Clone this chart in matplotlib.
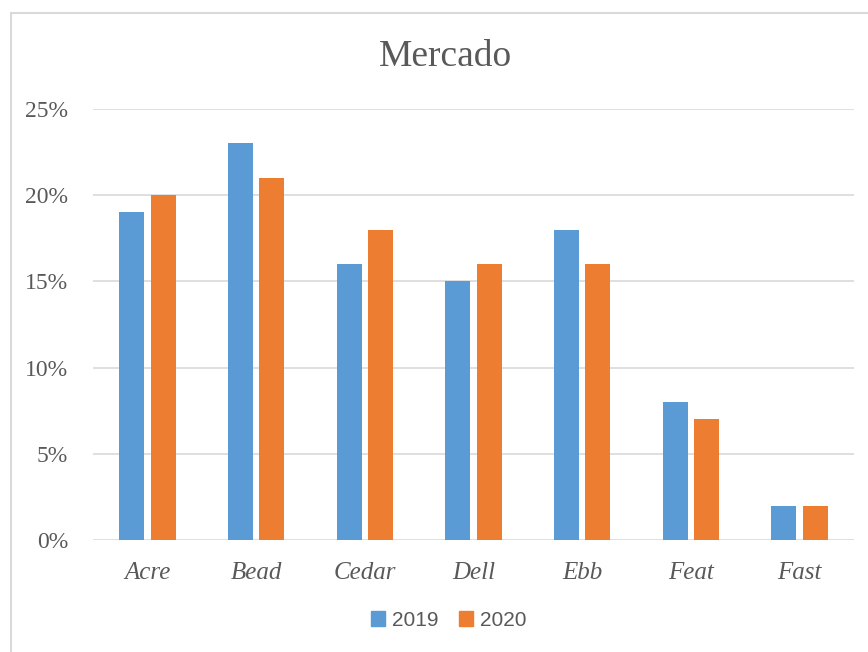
import matplotlib
matplotlib.use("Agg")
import matplotlib.pyplot as plt
import numpy as np
from matplotlib.patches import Rectangle, Patch

categories = ["Acre", "Bead", "Cedar", "Dell", "Ebb", "Feat", "Fast"]
series_names = ["2019", "2020"]
values_2019 = [19, 23, 16, 15, 18, 8, 2]
values_2020 = [20, 21, 18, 16, 16, 7, 2]
y_ticks = [0, 5, 10, 15, 20, 25]
y_tick_labels = ["0%", "5%", "10%", "15%", "20%", "25%"]
title = "Mercado"

blue = "#5B9BD5"
orange = "#ED7D31"
grid_c = "#D9D9D9"
text_c = "#595959"

W, H = 868, 652
fig = plt.figure(figsize=(W / 100, H / 100), dpi=100)
fig.patch.set_facecolor("white")

# chart border (light grey, extending beyond the right/bottom edges)
fig.patches.append(Rectangle((11 / W, 0 - 0.1), 1.2, 1 - 13 / H + 0.1,
                             transform=fig.transFigure, fill=False,
                             edgecolor="#D9D9D9", linewidth=1.5))

ax = fig.add_axes([93 / W, (H - 540) / H, 761 / W, 431 / H])
x = np.arange(len(categories))
bw = 0.23
off = 0.145
ax.bar(x - off, values_2019, bw, color=blue, label=series_names[0], zorder=3)
ax.bar(x + off, values_2020, bw, color=orange, label=series_names[1], zorder=3)

ax.set_xlim(-0.5, len(categories) - 0.5)
ax.set_ylim(0, 25)
ax.set_yticks(y_ticks)
ax.set_yticklabels(y_tick_labels, family="Liberation Serif", fontsize=17, color=text_c)
ax.set_xticks(x)
ax.set_xticklabels(categories, family="Liberation Serif", style="italic", fontsize=18, color=text_c)
ax.tick_params(axis="y", length=0, pad=18)
ax.tick_params(axis="x", length=0, pad=16)
for s in ax.spines.values():
    s.set_visible(False)
ax.grid(axis="y", color=grid_c, linewidth=1.2, zorder=0)
ax.set_axisbelow(True)

fig.text(445 / W, 1 - 57 / H, title, family="Liberation Serif", fontsize=27,
         color=text_c, ha="center", va="center")

handles = [Patch(color=blue), Patch(color=orange)]
leg = fig.legend(handles, series_names, loc="center", bbox_to_anchor=(449 / W, 1 - 620 / H),
                 ncol=2, frameon=False, prop={"family": "Liberation Sans", "size": 15},
                 handlelength=0.65, handleheight=0.7, handletextpad=0.35, columnspacing=1.0)
for t in leg.get_texts():
    t.set_color(text_c)

fig.savefig("out.png", dpi=100)
